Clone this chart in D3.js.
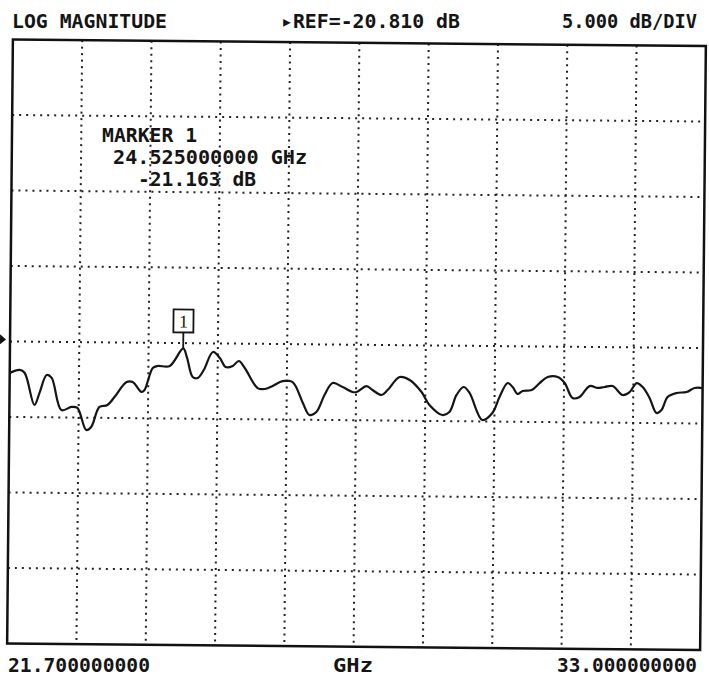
<!DOCTYPE html>
<html>
<head>
<meta charset="utf-8">
<script src="https://cdn.jsdelivr.net/npm/d3@7"></script>
<style>
  body { margin: 0; background: #fff; }
  text { font-family: "DejaVu Sans Mono", monospace; font-weight: bold; fill: #151515; }
</style>
</head>
<body>
<svg id="plot"></svg>
<script>
// sweep settings
const startGHz = 21.7;
const stopGHz = 33.0;
const refDB = -20.81;
const dbPerDiv = 5;
const divsX = 10;
const divsY = 8;

// trace (GHz, dB)
const freqGHz = [21.700, 21.863, 21.945, 22.108, 22.189, 22.303, 22.385, 22.548, 22.711, 22.809,
  22.956, 23.037, 23.168, 23.298, 23.412, 23.608, 23.706, 23.852, 23.901, 24.032,
  24.113, 24.309, 24.525, 24.586, 24.684, 24.766, 24.863, 25.010, 25.124, 25.222,
  25.336, 25.434, 25.532, 25.744, 25.858, 25.988, 26.151, 26.314, 26.477, 26.592,
  26.706, 26.836, 26.967, 27.130, 27.293, 27.358, 27.521, 27.619, 27.766, 27.864,
  28.059, 28.222, 28.418, 28.549, 28.761, 28.875, 28.989, 29.103, 29.201, 29.413,
  29.576, 29.690, 29.821, 29.902, 29.984, 30.065, 30.212, 30.342, 30.473, 30.636,
  30.750, 30.881, 30.995, 31.158, 31.289, 31.403, 31.533, 31.696, 31.811, 31.925,
  32.023, 32.137, 32.251, 32.333, 32.431, 32.577, 32.740, 32.870, 33.000];
const magDB = [-22.90, -22.69, -22.89, -25.00, -24.20, -23.01, -23.20, -25.32, -25.11, -25.17,
  -26.63, -26.42, -25.09, -24.96, -24.42, -23.42, -23.42, -24.07, -23.94, -22.48,
  -22.34, -22.33, -21.16, -21.73, -23.05, -23.11, -22.58, -21.38, -21.77, -22.37,
  -22.29, -21.96, -22.42, -23.74, -23.80, -23.59, -23.26, -23.32, -24.63, -25.49,
  -25.29, -24.16, -23.36, -23.62, -23.94, -23.94, -23.54, -23.80, -24.12, -23.79,
  -22.92, -23.11, -23.90, -24.75, -25.41, -25.21, -24.07, -23.54, -23.93, -25.71,
  -25.24, -24.18, -23.25, -23.51, -23.97, -23.77, -23.70, -23.23, -22.83, -22.82,
  -23.21, -24.20, -24.13, -23.40, -23.52, -23.45, -23.38, -23.97, -23.77, -23.17,
  -23.43, -24.15, -25.14, -24.94, -24.07, -23.80, -23.73, -23.46, -23.46];

const markerGHz = 24.525;
const markerDB = -21.163;

const headerLabels = ['LOG MAGNITUDE', '\u25B8REF=-20.810 dB', '5.000 dB/DIV'];
const markerLabels = ['MARKER 1', '24.525000000 GHz', '-21.163 dB'];
const footerLabels = ['21.700000000', 'GHz', '33.000000000'];

class LogMagPlot {

    constructor(_config) {
        this.config = {
            parentElement: _config.parentElement,
            width: _config.width || 709,
            height: _config.height || 680,
            plot: {left: 10, top: 42.75, width: 693, height: 604},
            tilt: 0.545
        };
        this.initVis();
    }

    initVis() {
        let vis = this;
        let p = vis.config.plot;

        vis.svg = d3.select(vis.config.parentElement)
            .attr('width', vis.config.width)
            .attr('height', vis.config.height);

        // the printout is slightly skewed on the page
        vis.chart = vis.svg.append('g')
            .attr('transform', `rotate(${vis.config.tilt}, ${p.left + p.width / 2}, ${p.top + p.height / 2}) translate(${p.left}, ${p.top})`);

        vis.x = d3.scaleLinear()
            .domain([startGHz, stopGHz])
            .range([0, p.width]);

        vis.y = d3.scaleLinear()
            .domain([refDB - dbPerDiv * divsY / 2, refDB + dbPerDiv * divsY / 2])
            .range([p.height, 0]);

        vis.line = d3.line()
            .x((d, i) => vis.x(freqGHz[i]))
            .y(d => vis.y(d))
            .curve(d3.curveCatmullRom.alpha(0.5));

        // plotter text is tall and narrow, so squeeze each string to its printed width
        vis.label = (g, items) => g.selectAll('text')
            .data(items)
            .join('text')
                .attr('x', d => d.x)
                .attr('y', d => d.y)
                .attr('text-anchor', d => d.a || 'start')
                .attr('textLength', d => d.w)
                .attr('lengthAdjust', 'spacingAndGlyphs')
                .style('font-size', '20px')
                .text(d => d.t);
    }

    render() {
        let vis = this;
        let p = vis.config.plot;

        const gridX = d3.range(1, divsX).map(i => startGHz + i * (stopGHz - startGHz) / divsX);
        const gridY = d3.range(1, divsY).map(j => refDB + (j - divsY / 2) * dbPerDiv);

        vis.chart.append('g')
            .selectAll('line')
            .data(gridX)
            .join('line')
                .attr('x1', d => vis.x(d)).attr('x2', d => vis.x(d))
                .attr('y1', 0).attr('y2', p.height)
                .attr('stroke', '#222')
                .attr('stroke-width', 2)
                .attr('stroke-dasharray', '2 4.5');

        vis.chart.append('g')
            .selectAll('line')
            .data(gridY)
            .join('line')
                .attr('x1', 0).attr('x2', p.width)
                .attr('y1', d => vis.y(d)).attr('y2', d => vis.y(d))
                .attr('stroke', '#222')
                .attr('stroke-width', 2)
                .attr('stroke-dasharray', '2 5');

        vis.chart.append('rect')
            .attr('width', p.width)
            .attr('height', p.height)
            .attr('fill', 'none')
            .attr('stroke', '#111')
            .attr('stroke-width', 2.5);

        // reference level pointer
        vis.chart.append('path')
            .attr('d', `M-10,${vis.y(refDB) - 7}L-4,${vis.y(refDB) - 2}L-10,${vis.y(refDB) + 3}Z`)
            .attr('fill', '#111');

        vis.chart.append('path')
            .datum(magDB)
            .attr('d', vis.line)
            .attr('fill', 'none')
            .attr('stroke', '#151515')
            .attr('stroke-width', 2.2)
            .attr('stroke-linejoin', 'round');

        // marker flag
        const mx = vis.x(markerGHz), my = vis.y(markerDB);
        let flag = vis.chart.append('g');
        flag.append('line')
            .attr('x1', mx).attr('x2', mx)
            .attr('y1', my).attr('y2', my - 16)
            .attr('stroke', '#151515').attr('stroke-width', 1.8);
        flag.append('rect')
            .attr('x', mx - 10).attr('y', my - 39)
            .attr('width', 20).attr('height', 23)
            .attr('fill', '#fff')
            .attr('stroke', '#151515').attr('stroke-width', 1.8);
        flag.append('text')
            .attr('x', mx).attr('y', my - 21)
            .attr('text-anchor', 'middle')
            .style('font-family', '"Liberation Serif", serif')
            .style('font-weight', 'normal')
            .style('font-size', '18px')
            .text('1');

        vis.svg.append('g').call(vis.label, [
            {t: markerLabels[0], x: 102, y: 142, w: 95},
            {t: markerLabels[1], x: 113, y: 164, w: 194},
            {t: markerLabels[2], x: 138, y: 186, w: 118}
        ]);

        vis.svg.append('g').call(vis.label, [
            {t: headerLabels[0], x: 12, y: 28, w: 155},
            {t: headerLabels[1], x: 281, y: 28, w: 179},
            {t: headerLabels[2], x: 697, y: 28, w: 135, a: 'end'}
        ]);

        vis.svg.append('g').call(vis.label, [
            {t: footerLabels[0], x: 8, y: 672, w: 142},
            {t: footerLabels[1], x: 353, y: 672, w: 40, a: 'middle'},
            {t: footerLabels[2], x: 697, y: 672, w: 140, a: 'end'}
        ]);
    }
}

const plot = new LogMagPlot({parentElement: '#plot', width: 709, height: 680});
plot.render();
</script>
</body>
</html>
